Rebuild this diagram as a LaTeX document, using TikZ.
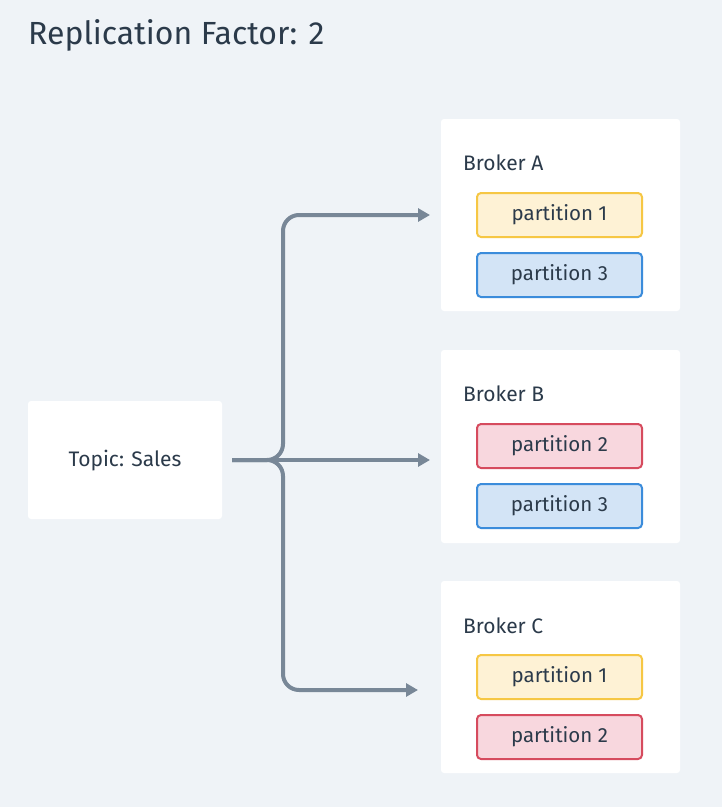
\documentclass[tikz,border=0pt]{standalone}
\usepackage{fontspec}
\setmainfont{Fira Sans}
\usetikzlibrary{arrows.meta}
\definecolor{fond}{HTML}{EFF3F7}
\definecolor{texte}{HTML}{2B3A4A}
\definecolor{fleche}{HTML}{788797}
\definecolor{jauneF}{HTML}{FEF2D5}
\definecolor{jauneB}{HTML}{F6C744}
\definecolor{bleuF}{HTML}{D3E4F6}
\definecolor{bleuB}{HTML}{3B8CDB}
\definecolor{rougeF}{HTML}{F8D7DE}
\definecolor{rougeB}{HTML}{D64B5E}
\begin{document}
\begin{tikzpicture}[x=1pt,y=-1pt,
  carte/.style={fill=white, rounded corners=3pt, inner sep=0pt},
  part/.style={draw, line width=2pt, rounded corners=4pt, minimum width=165pt,
    minimum height=44pt, inner sep=0pt, font=\fontsize{20.5}{24}\selectfont, text=texte},
  p1/.style={part, fill=jauneF, draw=jauneB},
  p2/.style={part, fill=rougeF, draw=rougeB},
  p3/.style={part, fill=bleuF, draw=bleuB},
  nom/.style={anchor=west, font=\fontsize{21}{24}\selectfont, text=texte, inner sep=0pt},
  lien/.style={draw=fleche, line width=4pt, rounded corners=16pt,
    -{Triangle[length=12pt,width=13pt]}}]
  % Fond et titre
  \fill [fond] (0,0) rectangle (722,807);
  \node (titre) [anchor=west, inner sep=0pt, text=texte, font=\fontsize{32}{36}\selectfont] at (28,35) {Replication Factor: 2};

  % Topic
  \fill [carte] (28,401) rectangle (222,519);
  \node (topic) [font=\fontsize{21}{24}\selectfont, text=texte] at (125,461) {Topic: Sales};

  % Brokers
  \fill [carte] (441,119) rectangle (680,311);
  \fill [carte] (441,350) rectangle (680,543);
  \fill [carte] (441,581) rectangle (680,773);
  \node (nomA) [nom] at (463,163) {Broker A};
  \node (nomB) [nom] at (463,394) {Broker B};
  \node (nomC) [nom] at (463,626) {Broker C};

  \node (a1) [p1] at (559.5,215) {partition 1};
  \node (a3) [p3] at (559.5,275) {partition 3};
  \node (b2) [p2] at (559.5,446) {partition 2};
  \node (b3) [p3] at (559.5,506) {partition 3};
  \node (c1) [p1] at (559.5,677) {partition 1};
  \node (c2) [p2] at (559.5,737) {partition 2};

  % Fleches
  \coordinate (depart) at (232,460);
  \coordinate (finA) at (430,215);
  \coordinate (finB) at (430,460);
  \coordinate (finC) at (418,690);
  \draw [lien] (depart) -- (283,460) -- (283,215) -- (finA);
  \draw [lien] (depart) -- (finB);
  \draw [lien] (depart) -- (283,460) -- (283,690) -- (finC);
\end{tikzpicture}
\end{document}
